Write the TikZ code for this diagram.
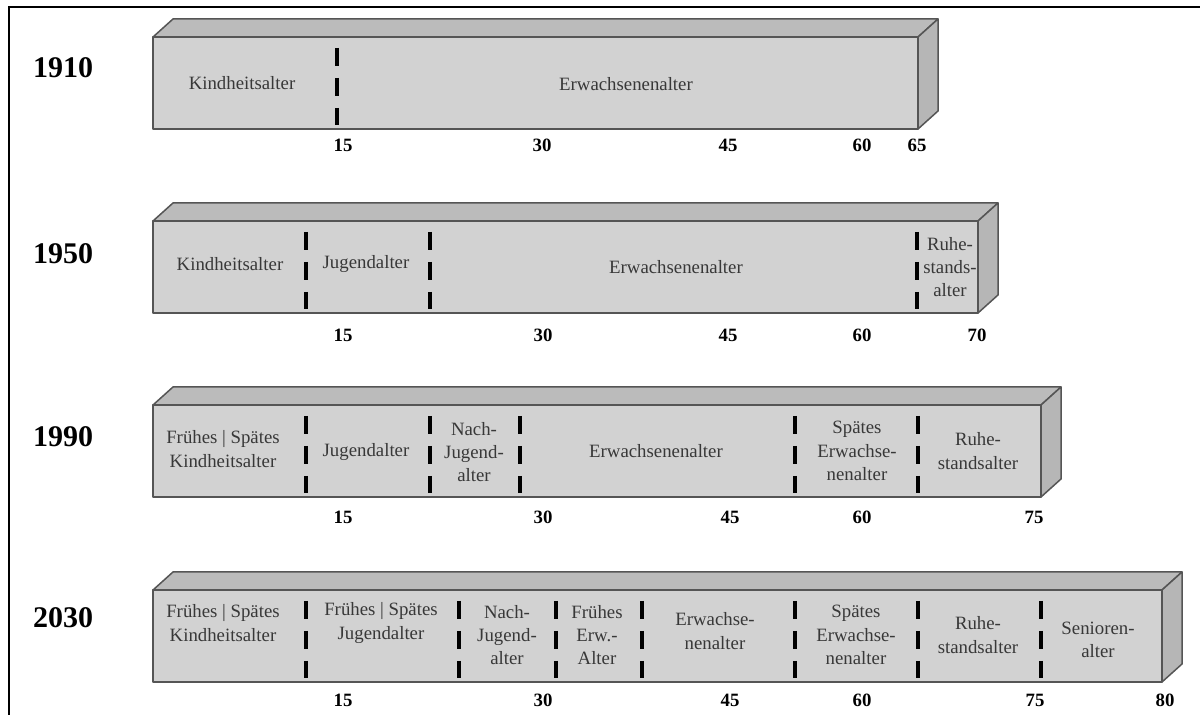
\documentclass[tikz,border=0pt]{standalone}
\usepackage{fontspec}
\setmainfont{Liberation Serif}
\usepackage{tikz}
\usepackage{xcolor}

\definecolor{frontgray}{HTML}{D2D2D2}
\definecolor{topgray}{HTML}{BBBBBB}
\definecolor{sidegray}{HTML}{B6B6B6}
\definecolor{edgegray}{HTML}{555555}
\definecolor{textgray}{HTML}{383838}

\begin{document}
\begin{tikzpicture}[x=0.5pt, y=-0.5pt,
    face/.style={draw=edgegray, line width=0.75pt, line join=round},
    sep/.style={line width=2pt, dash pattern=on 9pt off 6pt},
    phase/.style={inner sep=0pt, align=center, text=textgray, font=\fontsize{9.4}{11.6}\selectfont},
    age/.style={inner sep=0pt, font=\fontsize{9.4}{11.6}\selectfont\bfseries},
    year/.style={inner sep=0pt, font=\fontsize{15}{18}\selectfont\bfseries}]
    \useasboundingbox (0,0) rectangle (1200,715);
    % Frame
    \draw [line width=1pt] (9,715) -- (9,7) -- (1200,7);

    % Row 1910
    \begin{scope}[shift={(0,37)}]
        \draw [face, fill=frontgray] (153,0) rectangle (918,92);
        \draw [face, fill=topgray] (153,0) -- (173,-18) -- (938,-18) -- (918,0) -- cycle;
        \draw [face, fill=sidegray] (918,0) -- (938,-18) -- (938,74) -- (918,92) -- cycle;
        \draw [sep] (337,11) -- (337,88);
        \node [year] (y1910) at (63,31) {1910};
        \node [phase] (kind1910) at (242,46) {Kindheitsalter};
        \node [phase] (erw1910) at (626,47) {Erwachsenenalter};
        \node [age] (a1910x15) at (343,108) {15};
        \node [age] (a1910x30) at (542,108) {30};
        \node [age] (a1910x45) at (728,108) {45};
        \node [age] (a1910x60) at (862,108) {60};
        \node [age] (a1910x65) at (917,108) {65};
    \end{scope}

    % Row 1950
    \begin{scope}[shift={(0,221)}]
        \draw [face, fill=frontgray] (153,0) rectangle (978,92);
        \draw [face, fill=topgray] (153,0) -- (173,-18) -- (998,-18) -- (978,0) -- cycle;
        \draw [face, fill=sidegray] (978,0) -- (998,-18) -- (998,74) -- (978,92) -- cycle;
        \draw [sep] (306,11) -- (306,88);
        \draw [sep] (430,11) -- (430,88);
        \draw [sep] (917,11) -- (917,88);
        \node [year] (y1950) at (63,33) {1950};
        \node [phase] (kind1950) at (230,43) {Kindheitsalter};
        \node [phase] (jug1950) at (366,43) {Jugendalter};
        \node [phase] (erw1950) at (676,46) {Erwachsenenalter};
        \node [phase] (ruhe1950) at (950,46) {Ruhe-\\stands-\\alter};
        \node [age] (a1950x15) at (343,114) {15};
        \node [age] (a1950x30) at (543,114) {30};
        \node [age] (a1950x45) at (728,114) {45};
        \node [age] (a1950x60) at (862,114) {60};
        \node [age] (a1950x70) at (977,114) {70};
    \end{scope}

    % Row 1990
    \begin{scope}[shift={(0,405)}]
        \draw [face, fill=frontgray] (153,0) rectangle (1041,92);
        \draw [face, fill=topgray] (153,0) -- (173,-18) -- (1061,-18) -- (1041,0) -- cycle;
        \draw [face, fill=sidegray] (1041,0) -- (1061,-18) -- (1061,74) -- (1041,92) -- cycle;
        \draw [sep] (306,11) -- (306,88);
        \draw [sep] (430,11) -- (430,88);
        \draw [sep] (520,11) -- (520,88);
        \draw [sep] (795,11) -- (795,88);
        \draw [sep] (918,11) -- (918,88);
        \node [year] (y1990) at (63,32) {1990};
        \node [phase] (kind1990) at (223,44) {Frühes | Spätes\\Kindheitsalter};
        \node [phase] (jug1990) at (366,47) {Jugendalter};
        \node [phase] (nach1990) at (474,47) {Nach-\\Jugend-\\alter};
        \node [phase] (erw1990) at (656,46) {Erwachsenenalter};
        \node [phase] (spaet1990) at (857,46) {Spätes\\Erwachse-\\nenalter};
        \node [phase] (ruhe1990) at (978,46) {Ruhe-\\standsalter};
        \node [age] (a1990x15) at (343,112) {15};
        \node [age] (a1990x30) at (543,112) {30};
        \node [age] (a1990x45) at (730,112) {45};
        \node [age] (a1990x60) at (862,112) {60};
        \node [age] (a1990x75) at (1034,112) {75};
    \end{scope}

    % Row 2030
    \begin{scope}[shift={(0,590)}]
        \draw [face, fill=frontgray] (153,0) rectangle (1162,92);
        \draw [face, fill=topgray] (153,0) -- (173,-18) -- (1182,-18) -- (1162,0) -- cycle;
        \draw [face, fill=sidegray] (1162,0) -- (1182,-18) -- (1182,74) -- (1162,92) -- cycle;
        \draw [sep] (306,11) -- (306,88);
        \draw [sep] (459,11) -- (459,88);
        \draw [sep] (556,11) -- (556,88);
        \draw [sep] (642,11) -- (642,88);
        \draw [sep] (795,11) -- (795,88);
        \draw [sep] (918,11) -- (918,88);
        \draw [sep] (1041,11) -- (1041,88);
        \node [year] (y2030) at (63,28) {2030};
        \node [phase] (kind2030) at (223,33) {Frühes | Spätes\\Kindheitsalter};
        \node [phase] (jug2030) at (381,33) {Frühes | Spätes\\Jugendalter};
        \node [phase] (nach2030) at (507,45) {Nach-\\Jugend-\\alter};
        \node [phase] (frerw2030) at (597,45) {Frühes\\Erw.-\\Alter};
        \node [phase] (erw2030) at (715,41) {Erwachse-\\nenalter};
        \node [phase] (spaet2030) at (856,45) {Spätes\\Erwachse-\\nenalter};
        \node [phase] (ruhe2030) at (978,45) {Ruhe-\\standsalter};
        \node [phase] (sen2030) at (1098,50) {Senioren-\\alter};
        \node [age] (a2030x15) at (343,110) {15};
        \node [age] (a2030x30) at (543,110) {30};
        \node [age] (a2030x45) at (730,110) {45};
        \node [age] (a2030x60) at (862,110) {60};
        \node [age] (a2030x75) at (1035,110) {75};
        \node [age] (a2030x80) at (1165,110) {80};
    \end{scope}
\end{tikzpicture}
\end{document}
